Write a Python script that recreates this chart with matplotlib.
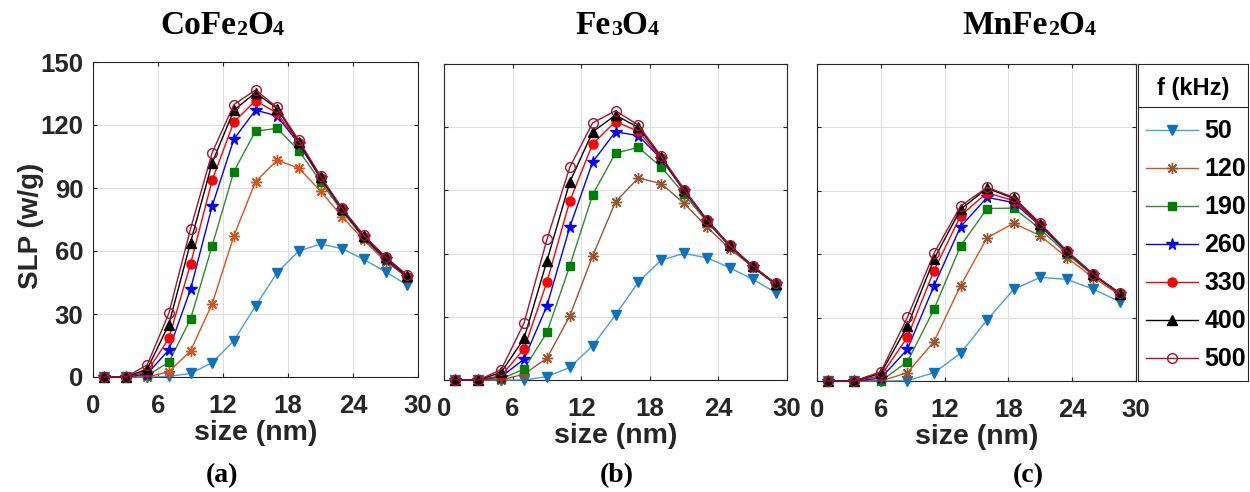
import numpy as np
import matplotlib
matplotlib.use("Agg")
import matplotlib.pyplot as plt

# frequencies (kHz) and particle sizes (nm)
freqs = ["50", "120", "190", "260", "330", "400", "500"]
size_ab = [1, 3, 5, 7, 9, 11, 13, 15, 17, 19, 21, 23, 25, 27, 29]
size_c = [1, 3.5, 6, 8.5, 11, 13.5, 16, 18.5, 21, 23.5, 26, 28.5]

# CoFe2O4
a50 = [0, 0, 0, 0.3, 1.7, 6.8, 17.3, 33.8, 49.7, 60, 63.3, 61.1, 56, 50.1, 43.8]
a120 = [0, 0, 0, 2.5, 12.4, 34.8, 67.1, 93, 103.3, 99.4, 88.6, 76.3, 65.2, 54.9, 47.8]
a190 = [0, 0, 0.8, 7, 27.5, 62.5, 97.8, 117.1, 118.4, 107.8, 93, 79, 66, 55.8, 47.2]
a260 = [0, 0, 1.5, 12.9, 41.7, 81.4, 113.2, 127.1, 124.3, 111, 94.6, 79.5, 66.5, 56, 47.5]
a330 = [0, 0, 2.5, 18.4, 53.7, 93.7, 121.4, 131.6, 125.6, 111.6, 94.9, 79.8, 66.7, 56.5, 47.7]
a400 = [0, 0, 3.7, 25, 64, 102, 127, 135.4, 127.8, 112, 95.3, 80, 67, 57, 48]
a500 = [0, 0, 5.7, 30.3, 70.5, 106.8, 129.7, 136.7, 128.4, 112.7, 95.7, 80.3, 67.5, 57.2, 48.6]

# Fe3O4
b50 = [0, 0, 0, 0, 1.6, 6, 16.2, 30.9, 46.5, 56.9, 60.1, 58, 53.3, 47.8, 41.5]
b120 = [0, 0, 0, 2.8, 10.3, 30.4, 58.8, 84.6, 95.9, 93.2, 83.8, 72.6, 62.3, 53.6, 45.5]
b190 = [0, 0, 0.5, 5.2, 22.6, 54.1, 87.9, 107.7, 110.4, 101.1, 88.3, 75, 63.4, 53.5, 45.3]
b260 = [0, 0, 1.5, 9.9, 35.2, 72.6, 103.5, 117.8, 116, 104.9, 89.7, 75.5, 63.5, 53.8, 45.5]
b330 = [0, 0, 2, 14.7, 46.5, 84.9, 112, 122.7, 118, 105.4, 90, 75.7, 63.7, 53.9, 45.6]
b400 = [0, 0, 3.6, 19.7, 56.5, 93.9, 117.8, 125.7, 119.9, 105.9, 90.4, 76, 63.9, 54, 45.8]
b500 = [0, 0, 4.9, 27, 66.7, 101, 122, 127.8, 121, 106.2, 90.4, 76, 63.9, 54.1, 45.9]

# MnFe2O4
c50 = [0, 0, 0, 0.2, 3.9, 13.1, 28.9, 43.4, 49, 48.1, 43.4, 37.5]
c120 = [0, 0, 0, 3.9, 18.6, 45.1, 67.8, 74.6, 68.8, 58.4, 48.9, 40.6]
c190 = [0, 0, 0, 9.1, 33.9, 63.9, 81.6, 81.8, 71.9, 60.1, 49.9, 41.2]
c260 = [0, 0, 1.3, 15, 45, 73, 86.9, 84.4, 73.4, 61, 50.2, 41.2]
c330 = [0, 0, 2.4, 20.7, 52.2, 78.2, 89.1, 85.3, 73.8, 61.2, 50.3, 41.3]
c400 = [0, 0, 3.6, 26, 57.6, 81.2, 91.2, 86.4, 74.3, 61.3, 50.4, 41.4]
c500 = [0, 0, 4.4, 30.1, 60.4, 82.8, 91.6, 86.9, 74.6, 61.5, 50.5, 41.5]

# titles split into (text, is_subscript) pieces
titles = [
    [("CoFe", 0), ("2", 1), ("O", 0), ("4", 1)],
    [("Fe", 0), ("3", 1), ("O", 0), ("4", 1)],
    [("MnFe", 0), ("2", 1), ("O", 0), ("4", 1)],
]
letters = ["(a)", "(b)", "(c)"]
xticks = [0, 6, 12, 18, 24, 30]
yticks = [0, 30, 60, 90, 120, 150]

# line colour, marker, marker face, marker edge, marker size
styles = [
    ("#4A9FDB", "v", "#0B72C0", "#0B72C0", 7),
    ("#D95319", (8, 2, 0), "none", "#D95319", 8),
    ("#2E8B2E", "s", "#008000", "#008000", 6),
    ("#0000FF", "*", "#0000FF", "#0000FF", 8.5),
    ("#FF0000", "o", "#FF0000", "#FF0000", 6.5),
    ("#000000", "^", "#000000", "#000000", 6.5),
    ("#A2142F", "o", "none", "#A2142F", 7),
]

W, H = 1250, 492
fig = plt.figure(figsize=(W / 100, H / 100), dpi=100)
tc = "#262626"
sans = ["Liberation Sans", "DejaVu Sans"]
serif = ["Liberation Serif", "DejaVu Serif"]

def px(l, t, r, b):
    return [l / W, (H - b) / H, (r - l) / W, (b - t) / H]

ax_a = fig.add_axes(px(93, 62, 418, 377))
ax_b = fig.add_axes(px(444, 64, 787, 380))
ax_c = fig.add_axes(px(817, 64, 1136, 381))
ax_l = fig.add_axes(px(1138, 64, 1248, 381))

panels = [
    (ax_a, size_ab, [a50, a120, a190, a260, a330, a400, a500], 0),
    (ax_b, size_ab, [b50, b120, b190, b260, b330, b400, b500], 1),
    (ax_c, size_c, [c50, c120, c190, c260, c330, c400, c500], 1),
]

handles = []
for k, (ax, xs, series, y0) in enumerate(panels):
    for i, ys in enumerate(series):
        lc, mk, mf, me, ms = styles[i]
        if i == 1 and k == 1:
            lc = "#A0522D"
            me = "#A0522D"
        elif i == 1 and k == 2:
            me = "#A0522D"
        h, = ax.plot(xs, ys, color=lc, lw=1, marker=mk, mfc=mf, mec=me,
                     ms=ms, mew=1, clip_on=False, zorder=3 + i)
        if k == 2:
            handles.append(h)
    ax.set_xlim(0, 30)
    ax.set_ylim(y0, 150)
    ax.set_xticks(xticks)
    ax.set_yticks(yticks)
    ax.grid(True, color="#e0e0e0", lw=0.8)
    ax.set_axisbelow(True)
    ax.tick_params(direction="in", length=3, top=True, right=True,
                   colors=tc, labelsize=18.5, pad=7)
    ax.tick_params(axis="x", pad=12)
    for s in ax.spines.values():
        s.set_color(tc)
        s.set_linewidth(0.8)
    for lab in ax.get_xticklabels() + ax.get_yticklabels():
        lab.set_fontfamily(sans)
        lab.set_fontweight("bold")
    ax.set_xlabel("size (nm)", fontsize=20.5, fontweight="bold", color=tc,
                  family=sans, labelpad=2)
    if k > 0:
        ax.set_yticklabels([])

ax_a.set_ylabel("SLP (w/g)", fontsize=20, fontweight="bold", color=tc,
                family=sans)
ax_a.yaxis.set_label_coords(-(93 - 44) / 325, (377 - 226) / 315)

# titles (built from pieces so the subscripts sit small on the baseline)
tx = [222, 617, 1029]
lx = [222, 617, 1028]
renderer = fig.canvas.get_renderer()
for k in range(3):
    pieces = []
    total = 0
    for txt, sub in titles[k]:
        t = fig.text(0, 0, txt, fontsize=16 if sub else 24, fontweight="bold",
                     family=serif, va="baseline", ha="left")
        w = t.get_window_extent(renderer).width
        pieces.append((t, w, sub))
        total += w
    x0 = tx[k] - total / 2
    for t, w, sub in pieces:
        t.set_position((x0 / W, 1 - (34 + (1 if sub else 0)) / H))
        x0 += w
    fig.text(lx[k] / W, 1 - 476 / H, letters[k], ha="center", va="center",
             fontsize=20, fontweight="bold", family=serif)

# legend box
ax_l.set_xticks([])
ax_l.set_yticks([])
for s in ax_l.spines.values():
    s.set_color(tc)
    s.set_linewidth(0.8)
sep = (381 - 107) / 317
ax_l.axhline(sep, color=tc, lw=0.8)
ax_l.text(0.5, (381 - 89) / 317, "f (kHz)", transform=ax_l.transAxes,
          ha="center", va="center", fontsize=17, fontweight="bold", family=sans)
leg = ax_l.legend(handles, freqs, loc="upper left",
                  bbox_to_anchor=(0, (381 - 112) / 317),
                  frameon=False, borderaxespad=0, borderpad=0.3,
                  handlelength=2.1, handletextpad=0.25, labelspacing=0.56,
                  prop={"family": sans, "weight": "bold", "size": 18})

fig.savefig("out.png", dpi=100)
